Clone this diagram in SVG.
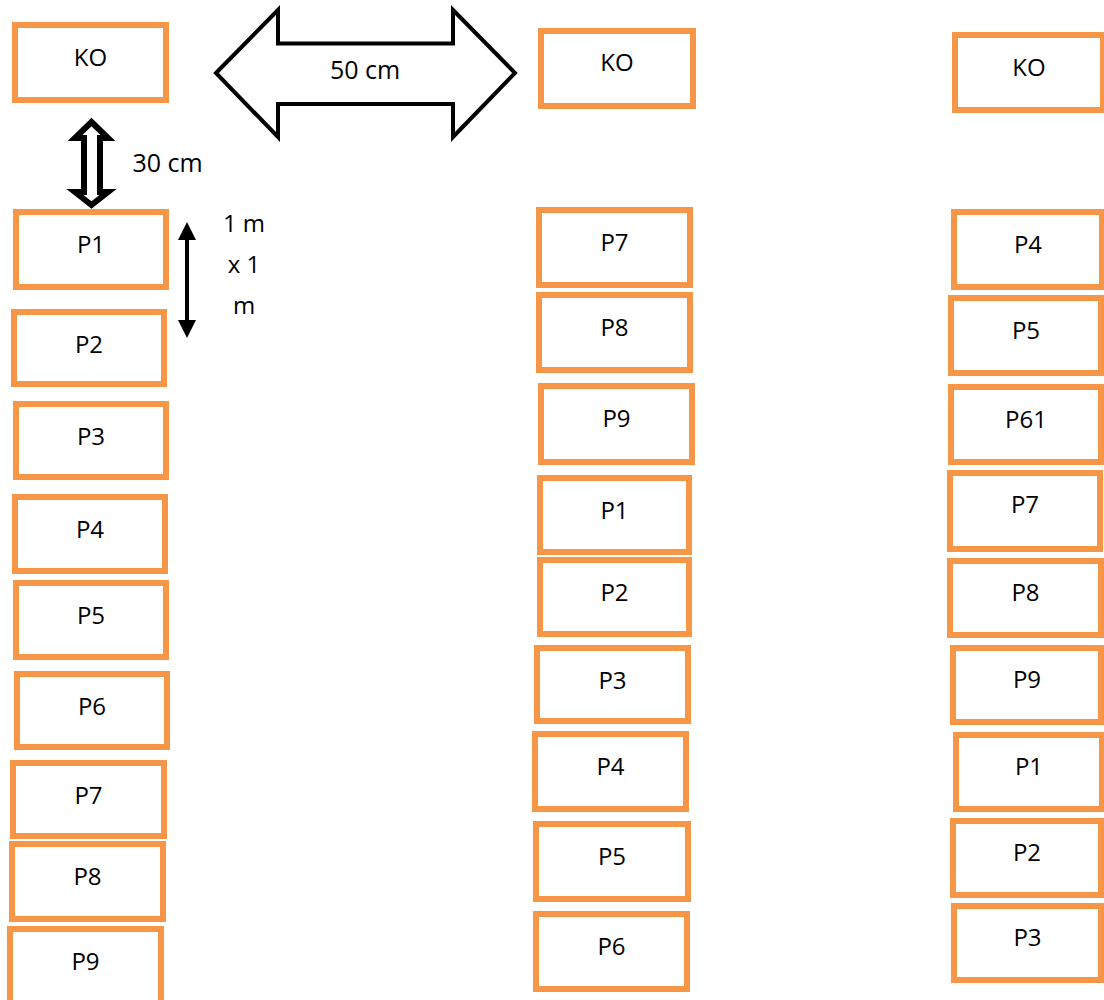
<svg xmlns="http://www.w3.org/2000/svg" width="1104" height="1000" viewBox="0 0 1104 1000">
<style>
.box{fill:#ffffff;stroke:#F79646;stroke-width:6}
.lbl{font-family:"Open Sans","Liberation Sans",sans-serif;font-size:24px;fill:#000000;text-anchor:middle}
.dim{fill:#ffffff;stroke:#000000;stroke-linejoin:miter}
</style>
<rect width="1104" height="1000" fill="#ffffff"/>
<g id="col1">
<g id="c1-KO"><rect class="box" x="15" y="25" width="151" height="75"/><text class="lbl" x="90.5" y="66">KO</text></g>
<g id="c1-P1"><rect class="box" x="16" y="212" width="150" height="75"/><text class="lbl" x="91" y="253">P1</text></g>
<g id="c1-P2"><rect class="box" x="14" y="312" width="150" height="72"/><text class="lbl" x="89" y="353">P2</text></g>
<g id="c1-P3"><rect class="box" x="16" y="404" width="150" height="73"/><text class="lbl" x="91" y="445">P3</text></g>
<g id="c1-P4"><rect class="box" x="15" y="497" width="150" height="74"/><text class="lbl" x="90" y="538">P4</text></g>
<g id="c1-P5"><rect class="box" x="16" y="583" width="150" height="74"/><text class="lbl" x="91" y="624">P5</text></g>
<g id="c1-P6"><rect class="box" x="17" y="674" width="150" height="73"/><text class="lbl" x="92" y="715">P6</text></g>
<g id="c1-P7"><rect class="box" x="13" y="763" width="151" height="73"/><text class="lbl" x="88.5" y="804">P7</text></g>
<g id="c1-P8"><rect class="box" x="12" y="844" width="151" height="75"/><text class="lbl" x="87.5" y="885">P8</text></g>
<g id="c1-P9"><rect class="box" x="10" y="929" width="151" height="80"/><text class="lbl" x="85.5" y="970">P9</text></g>
</g>
<g id="col2">
<g id="c2-KO"><rect class="box" x="541" y="31" width="152" height="75"/><text class="lbl" x="617" y="71">KO</text></g>
<g id="c2-P7"><rect class="box" x="539" y="210" width="151" height="75"/><text class="lbl" x="614.5" y="251">P7</text></g>
<g id="c2-P8"><rect class="box" x="539" y="295" width="151" height="75"/><text class="lbl" x="614.5" y="336">P8</text></g>
<g id="c2-P9"><rect class="box" x="541" y="386" width="151" height="76"/><text class="lbl" x="616.5" y="427">P9</text></g>
<g id="c2-P1"><rect class="box" x="540" y="478" width="149" height="74"/><text class="lbl" x="614.5" y="519">P1</text></g>
<g id="c2-P2"><rect class="box" x="540" y="560" width="149" height="74"/><text class="lbl" x="614.5" y="601">P2</text></g>
<g id="c2-P3"><rect class="box" x="537" y="648" width="151" height="73"/><text class="lbl" x="612.5" y="689">P3</text></g>
<g id="c2-P4"><rect class="box" x="535" y="734" width="151" height="75"/><text class="lbl" x="610.5" y="775">P4</text></g>
<g id="c2-P5"><rect class="box" x="536" y="824" width="152" height="75"/><text class="lbl" x="612" y="865">P5</text></g>
<g id="c2-P6"><rect class="box" x="536" y="914" width="151" height="75"/><text class="lbl" x="611.5" y="955">P6</text></g>
</g>
<g id="col3">
<g id="c3-KO"><rect class="box" x="955" y="35" width="148" height="75"/><text class="lbl" x="1029" y="76">KO</text></g>
<g id="c3-P4"><rect class="box" x="954" y="212" width="148" height="75"/><text class="lbl" x="1028" y="253">P4</text></g>
<g id="c3-P5"><rect class="box" x="951" y="298" width="150" height="75"/><text class="lbl" x="1026" y="339">P5</text></g>
<g id="c3-P61"><rect class="box" x="951" y="387" width="150" height="75"/><text class="lbl" x="1026" y="428">P61</text></g>
<g id="c3-P7"><rect class="box" x="950" y="473" width="150" height="76"/><text class="lbl" x="1025" y="513">P7</text></g>
<g id="c3-P8"><rect class="box" x="950" y="561" width="151" height="74"/><text class="lbl" x="1025.5" y="601">P8</text></g>
<g id="c3-P9"><rect class="box" x="953" y="648" width="148" height="74"/><text class="lbl" x="1027" y="688">P9</text></g>
<g id="c3-P1"><rect class="box" x="956" y="735" width="146" height="74"/><text class="lbl" x="1029" y="775">P1</text></g>
<g id="c3-P2"><rect class="box" x="953" y="821" width="148" height="74"/><text class="lbl" x="1027" y="861">P2</text></g>
<g id="c3-P3"><rect class="box" x="954" y="906" width="147" height="74"/><text class="lbl" x="1027.5" y="946">P3</text></g>
</g>
<g id="connectors">
<g id="dim-50cm">
<polygon class="dim" stroke-width="4" points="216,73 278,10 278,43.5 453,43.5 453,10 515,73 453,137 453,104 278,104 278,137"/>
<text class="lbl" x="365" y="79" style="font-size:25px">50 cm</text>
</g>
<g id="dim-30cm">
<polygon class="dim" stroke-width="6" points="91.5,122 108,138 100,138 100,192 108,192 91.5,205 75,192 84,192 84,138 75,138"/>
<text class="lbl" x="167.5" y="172" style="font-size:25px">30 cm</text>
</g>
<g id="dim-1m">
<line x1="187" y1="236" x2="187" y2="324" stroke="#000000" stroke-width="4"/>
<polygon points="187,222 178,240 196,240" fill="#000000"/>
<polygon points="187,338 178,320 196,320" fill="#000000"/>
<text class="lbl" x="244" y="232">1 m</text>
<text class="lbl" x="244" y="273">x 1</text>
<text class="lbl" x="244" y="314">m</text>
</g>
</g>
</svg>
